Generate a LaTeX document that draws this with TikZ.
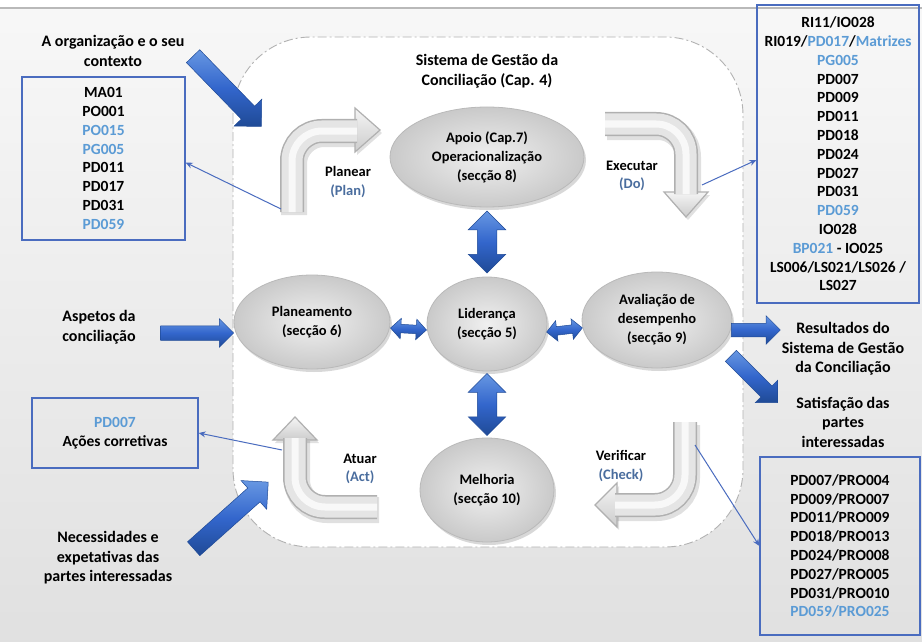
\documentclass[tikz,border=0pt]{standalone}
\usepackage{fontspec}
\setmainfont{Carlito}
\usetikzlibrary{shapes.geometric,shapes.arrows,shadows,arrows.meta}
\definecolor{codeblue}{HTML}{5B9BD5}
\definecolor{actblue}{HTML}{4A6D9E}
\definecolor{boxblue}{HTML}{4A6CBF}
\definecolor{arrowdark}{HTML}{1F4A96}
\definecolor{arrowlight}{HTML}{6797E2}
\definecolor{arrowmid}{HTML}{3366CC}
\newcommand\bentarrow[2]{%
  \draw[gshadow] #1;
  \fill[black, opacity=0.12, xshift=2pt, yshift=-3pt] #2;
  \draw[ghead] #2;
  \draw[gout] #1;
  \draw[gbody] #1;
  \draw[ghl] #1;
}
\begin{document}
\begin{tikzpicture}[x=1pt,y=-1pt,
  lbl/.style={font=\fontsize{16}{19.5}\selectfont\bfseries, align=center, inner sep=0pt},
  boxtxt/.style={draw=boxblue, line width=1.2pt, font=\fontsize{15.5}{18.8}\selectfont\bfseries, align=center, inner sep=0pt},
  ell/.style={ellipse, draw=gray!55, line width=0.8pt, inner color=gray!12, outer color=gray!42,
     drop shadow={opacity=0.3, shadow xshift=2pt, shadow yshift=-3pt},
     font=\fontsize{14.5}{19}\selectfont\bfseries, align=center, inner sep=0pt},
  pdca/.style={font=\fontsize{14.5}{18.5}\selectfont\bfseries, align=center, inner sep=0pt},
  barrow/.style={single arrow, draw=arrowdark, line width=0.5pt, top color=arrowlight, bottom color=arrowdark, middle color=arrowmid,
     inner sep=0pt, single arrow tip angle=90, single arrow head indent=0pt, midway, sloped, allow upside down},
  dbarrow/.style={double arrow, draw=arrowdark, line width=0.5pt, top color=arrowlight, bottom color=arrowdark, middle color=arrowmid,
     inner sep=0pt, double arrow tip angle=90, double arrow head indent=0pt, midway, sloped, allow upside down},
  link/.style={draw=boxblue, line width=1pt, -{Stealth[length=7pt,width=6pt]}},
  gshadow/.style={line width=26pt, black, opacity=0.12, rounded corners=30pt, xshift=2pt, yshift=-3pt},
  gout/.style={line width=24pt, gray!62, rounded corners=30pt},
  gbody/.style={line width=21pt, gray!20, rounded corners=30pt},
  ghl/.style={line width=7pt, white, opacity=0.75, rounded corners=30pt},
  ghead/.style={draw=gray!62, line width=1.2pt, top color=gray!8, bottom color=gray!40},
]
\useasboundingbox (0,0) rectangle (922,642);
% background
\fill[white] (0,0) rectangle (922,642);
\shade[top color=gray!6, bottom color=gray!24] (0,9) rectangle (922,642);
\draw[gray!55, line width=1.5pt] (0,8) -- (922,8);
% system region
\draw[gray!60, line width=0.9pt, dash pattern=on 9pt off 3pt on 2pt off 3pt, fill=white, rounded corners=78pt]
  (233,37) rectangle (743,547);

% title
\node[lbl] (title) at (487,71) {Sistema de Gestão da\\Conciliação (Cap. 4)};

% ellipses
\node[ell, minimum width=194pt, minimum height=100pt] (apoio) at (487,157) {Apoio (Cap.7)\\Operacionalização\\(secção 8)};
\node[ell, minimum width=156pt, minimum height=94pt] (plan) at (312,322) {Planeamento\\(secção 6)};
\node[ell, minimum width=120pt, minimum height=94pt] (lid) at (487,324) {Liderança\\(secção 5)};
\node[ell, minimum width=150pt, minimum height=96pt] (aval) at (657,320) {Avaliação de\\desempenho\\(secção 9)};
\node[ell, minimum width=134pt, minimum height=104pt] (melh) at (487,490) {Melhoria\\(secção 10)};

% double arrows
\path (apoio.south) -- (lid.north) node[dbarrow, minimum height=62pt, inner ysep=9.5pt, double arrow head extend=9pt] (d1) {};
\path (lid.south) -- (melh.north) node[dbarrow, minimum height=62pt, inner ysep=9.5pt, double arrow head extend=9pt] (d2) {};
\path ([yshift=-6pt]plan.east) -- ([yshift=-6pt]lid.west) node[dbarrow, minimum height=36pt, inner ysep=4pt, double arrow head extend=6pt] (d3) {};
\path ([yshift=-8pt]lid.east) -- ([yshift=-8pt]aval.west) node[dbarrow, minimum height=36pt, inner ysep=4pt, double arrow head extend=6pt] (d4) {};

% grey PDCA arrows
\bentarrow{(292,212) -- (292,131) -- (357,131)}{(355,108) -- (380,130) -- (355,152) -- cycle}
\bentarrow{(605,124) -- (686,124) -- (686,194)}{(664,192) -- (708,192) -- (686,217) -- cycle}
\bentarrow{(685,422) -- (685,505) -- (615,505)}{(617,483) -- (617,527) -- (595,505) -- cycle}
\bentarrow{(377,507) -- (295,507) -- (295,438)}{(273,440) -- (317,440) -- (295,417) -- cycle}

% PDCA labels
\node[pdca] (planear) at (348,182) {Planear\\\textcolor{actblue}{(Plan)}};
\node[pdca] (executar) at (632,176) {Executar\\\textcolor{actblue}{(Do)}};
\node[pdca] (verificar) at (621,466) {Verificar\\\textcolor{actblue}{(Check)}};
\node[pdca] (atuar) at (360,469) {Atuar\\\textcolor{actblue}{(Act)}};

% outside labels
\node[lbl] (org) at (113,51) {A organização e o seu\\contexto};
\node[lbl] (asp) at (99,327) {Aspetos da\\conciliação};
\node[lbl] (nec) at (108,558) {Necessidades e\\expetativas das\\partes interessadas};
\node[lbl] (res) at (843,349) {Resultados do\\Sistema de Gestão\\da Conciliação};
\node[lbl] (sat) at (843,422) {Satisfação das\\partes\\interessadas};

% boxes
\node[boxtxt, minimum width=163pt, minimum height=163pt] (lbox) at (103.5,158.5)
  {MA01\\PO001\\\textcolor{codeblue}{PO015}\\\textcolor{codeblue}{PG005}\\PD011\\PD017\\PD031\\\textcolor{codeblue}{PD059}};
\node[boxtxt, minimum width=162pt, minimum height=298pt] (trbox) at (838,154)
  {RI11/IO028\\RI019/\textcolor{codeblue}{PD017}/\textcolor{codeblue}{Matrizes}\\\textcolor{codeblue}{PG005}\\PD007\\PD009\\PD011\\PD018\\PD024\\PD027\\PD031\\\textcolor{codeblue}{PD059}\\IO028\\\textcolor{codeblue}{BP021} - IO025\\LS006/LS021/LS026 /\\LS027};
\node[boxtxt, minimum width=160pt, minimum height=178pt] (brbox) at (840,546)
  {PD007/PRO004\\PD009/PRO007\\PD011/PRO009\\PD018/PRO013\\PD024/PRO008\\PD027/PRO005\\PD031/PRO010\\\textcolor{codeblue}{PD059/PRO025}};
\node[boxtxt, minimum width=166pt, minimum height=70pt] (pdbox) at (115,433)
  {\textcolor{codeblue}{PD007}\\Ações corretivas};

% blue input/output arrows
\coordinate (orgT) at (190,53);   \coordinate (orgH) at (258,123);
\coordinate (aspT) at (157,333);  \coordinate (aspH) at (230,333);
\coordinate (necT) at (190,552);  \coordinate (necH) at (265,485);
\coordinate (resT) at (728,330);  \coordinate (resH) at (777,330);
\coordinate (satT) at (728,353);  \coordinate (satH) at (775,400);
\path (orgT) -- (orgH) node[barrow, minimum height=98pt, inner ysep=9pt, single arrow head extend=10pt] (a1) {};
\path (aspT) -- (aspH) node[barrow, minimum height=73pt, inner ysep=7pt, single arrow head extend=7pt] (a2) {};
\path (necT) -- (necH) node[barrow, minimum height=100pt, inner ysep=9pt, single arrow head extend=10pt] (a3) {};
\path (resT) -- (resH) node[barrow, minimum height=49pt, inner ysep=6.5pt, single arrow head extend=7.5pt] (a4) {};
\path (satT) -- (satH) node[barrow, minimum height=66pt, inner ysep=7.5pt, single arrow head extend=8pt] (a5) {};

% thin links
\coordinate (planfoot) at (281,209);
\coordinate (dofoot) at (702,185);
\coordinate (actfoot) at (282,450);
\coordinate (chkfoot) at (695,445);
\draw[link] (planfoot) -- ([yshift=-4pt]lbox.east);
\draw[link] (dofoot) -- ([yshift=-6pt]trbox.west);
\draw[link] (actfoot) -- (pdbox.east);
\draw[link] (chkfoot) -- (brbox.west);
\end{tikzpicture}
\end{document}
